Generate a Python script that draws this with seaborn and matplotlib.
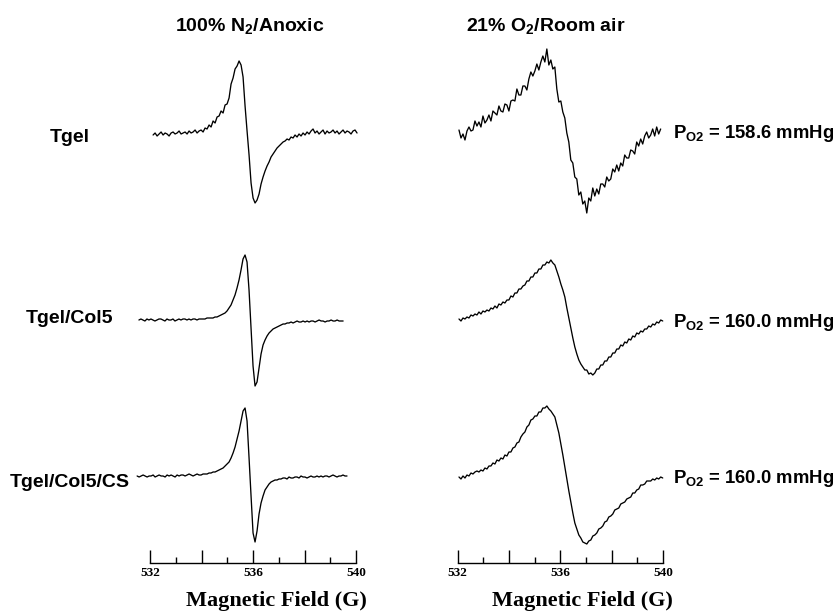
import numpy as np
import pandas as pd
import matplotlib
matplotlib.use("Agg")
import matplotlib.pyplot as plt
import seaborn as sns

# ---------------------------------------------------------------------------
# EPR spectra of the oximetry probe in three scaffolds, two atmospheres
# ---------------------------------------------------------------------------
samples = ["Tgel", "Tgel/Col5", "Tgel/Col5/CS"]
conditions = ["100% N$_\\mathregular{2}$/Anoxic", "21% O$_\\mathregular{2}$/Room air"]
po2_values = [158.6, 160.0, 160.0]          # mmHg, room-air spectra
field_ticks = [532, 536, 540]               # labelled field values (G)

# field sweep (start, end) in gauss of each recorded trace
anoxic_sweeps = [(532.12, 540.04), (531.57, 539.50), (531.50, 539.65)]
air_sweeps = [(532.05, 539.91), (532.05, 539.99), (532.05, 539.99)]

# first-derivative signal (a.u.), uniformly sampled over each sweep
anoxic_tgel = [
    -2, 0, -3, -1, 1, -2, 0, -1, -3, 0,
    1, -1, 0, 2, -1, 0, 1, -1, 2, 0,
    1, 3, 0, 2, 3, 1, 5, 4, 8, 6,
    12, 10, 16, 17, 22, 20, 28, 29, 35, 49,
    55, 64, 67, 72, 68, 56, 27, 2, -22, -50,
    -65, -70, -67, -61, -51, -44, -38, -33, -29, -24,
    -21, -18, -15, -13, -11, -9, -8, -6, -7, -4,
    -5, -2, -4, -1, -3, 0, -2, 1, -1, 2,
    4, 0, 2, -1, 1, 3, -1, 2, 0, 1,
    3, 0, 2, -1, 1, 3, 0, 2, 1, -1,
    2, 3, 0,
]
anoxic_col5 = [
    0, 1, 0, -1, 1, 0, 1, 0, -1, 0,
    1, 1, 0, -1, 1, 0, 0, 1, -1, 0,
    1, 0, 1, 1, 0, 1, 0, 1, 1, 0,
    1, 1, 1, 1, 2, 2, 2, 2, 3, 3,
    4, 5, 6, 7, 9, 12, 15, 20, 25, 32,
    40, 50, 61, 65, 58, 30, -8, -46, -66, -62,
    -48, -34, -25, -20, -16, -13, -11, -9, -8, -7,
    -6, -5, -4, -4, -3, -3, -2, -3, -2, -1,
    -2, -2, -1, -2, -1, -2, -1, -1, -2, -1,
    0, -1, -1, -2, -1, -1, 0, -1, -1, 0,
    -1, -1, -1,
]
anoxic_col5_cs = [
    0, -1, 0, 1, 0, -1, 0, 0, 1, -1,
    0, 1, 0, 0, -1, 1, 0, 1, 0, -1,
    1, 0, 1, 1, 0, 1, 2, 1, 0, 1,
    2, 1, 1, 2, 2, 2, 3, 3, 4, 4,
    5, 6, 7, 8, 10, 12, 14, 18, 23, 29,
    37, 45, 55, 65, 68, 55, 18, -20, -57, -66,
    -55, -38, -27, -20, -14, -11, -8, -6, -5, -4,
    -4, -3, -3, -2, -2, -3, -1, -2, -2, -1,
    -1, -2, 0, -1, -1, -2, -1, 0, -1, -1,
    0, -1, 0, -1, 0, 0, -1, 0, 1, 0,
    -1, 0, 0, 1, 0, 0,
]
air_tgel = [
    3, -5, -1, -7, 2, 6, 2, 3, 12, 7,
    11, 6, 17, 10, 13, 18, 12, 22, 20, 18,
    27, 22, 21, 29, 28, 22, 32, 33, 32, 44,
    38, 38, 47, 47, 43, 54, 61, 57, 62, 69,
    63, 71, 77, 71, 84, 68, 73, 64, 66, 44,
    31, 32, 21, 15, 0, -9, -27, -30, -44, -46,
    -62, -59, -71, -68, -80, -65, -68, -55, -63, -56,
    -61, -51, -51, -54, -44, -48, -46, -36, -39, -32,
    -38, -30, -33, -22, -25, -25, -17, -18, -21, -9,
    -13, -6, -11, -3, 1, -5, -2, 4, -3, 6,
    -1, 4,
]
air_col5 = [
    1, -1, 2, 1, 3, 2, 5, 4, 6, 5,
    8, 6, 9, 8, 10, 9, 12, 11, 14, 12,
    16, 15, 18, 17, 20, 20, 24, 23, 27, 27,
    31, 31, 34, 35, 39, 39, 43, 43, 47, 47,
    51, 51, 55, 55, 58, 57, 60, 57, 55, 49,
    43, 36, 30, 23, 12, 2, -8, -18, -27, -34,
    -40, -44, -47, -50, -50, -54, -53, -55, -53, -49,
    -49, -45, -45, -41, -41, -37, -37, -33, -33, -29,
    -29, -25, -26, -22, -23, -19, -20, -16, -17, -13,
    -14, -11, -12, -9, -9, -6, -7, -4, -5, -2,
    -3, 0, -1,
]
air_col5_cs = [
    1, -1, 2, 0, 3, 2, 5, 4, 6, 7,
    6, 8, 7, 10, 9, 12, 12, 15, 14, 18,
    17, 20, 19, 23, 22, 26, 26, 30, 31, 35,
    36, 41, 44, 46, 51, 53, 58, 59, 62, 62,
    66, 66, 70, 70, 72, 69, 67, 64, 61, 53,
    45, 34, 23, 11, -1, -13, -24, -35, -45, -51,
    -57, -60, -64, -65, -66, -63, -62, -58, -57, -55,
    -51, -50, -48, -44, -43, -39, -38, -36, -32, -31,
    -30, -26, -25, -24, -21, -20, -19, -15, -15, -12,
    -11, -7, -7, -6, -3, -3, -3, -1, -2, 0,
    -1, 1, 0,
]

# vertical stacking of the traces within each column (axis units)
anoxic_baselines = [430, 243, 87]
air_baselines = [430, 243, 85]

frames = []
for cond, sweeps, traces, bases in [
    (conditions[0], anoxic_sweeps, [anoxic_tgel, anoxic_col5, anoxic_col5_cs], anoxic_baselines),
    (conditions[1], air_sweeps, [air_tgel, air_col5, air_col5_cs], air_baselines),
]:
    for name, (f0, f1), sig, base in zip(samples, sweeps, traces, bases):
        sig = np.asarray(sig, dtype=float)
        frames.append(pd.DataFrame({
            "condition": cond,
            "sample": name,
            "field": np.linspace(f0, f1, len(sig)),
            "signal": sig,
            "y": sig + base,
        }))
spectra = pd.concat(frames, ignore_index=True)

# ---------------------------------------------------------------------------
sns.set_theme(style="white")
plt.rcParams["font.family"] = ["Liberation Sans", "DejaVu Sans"]
plt.rcParams["mathtext.default"] = "regular"

W, H = 840, 611
fig = plt.figure(figsize=(W / 100, H / 100), dpi=100)
fig.patch.set_facecolor("white")
spine_px = 563


def column_axes(x0, x1):
    return fig.add_axes([x0 / W, (H - spine_px) / H, (x1 - x0) / W, spine_px / H])


ax_l = column_axes(120, 372)
ax_r = column_axes(440, 680)
ax_l.set_xlim(532 + (120 - 150) / 25.75, 532 + (372 - 150) / 25.75)
ax_r.set_xlim(532 + (440 - 457.7) / 25.66, 532 + (680 - 457.7) / 25.66)

serif_bold = dict(family=["Liberation Serif", "DejaVu Serif"], weight="bold")

for ax, cond in zip([ax_l, ax_r], conditions):
    sub = spectra[spectra["condition"] == cond]
    sns.lineplot(data=sub, x="field", y="y", units="sample", estimator=None,
                 sort=False, color="black", linewidth=0.95, legend=False, ax=ax)
    ax.set_ylim(0, spine_px)
    ax.set_yticks([])
    ax.set_xlabel("")
    ax.set_ylabel("")
    ax.patch.set_alpha(0)
    for side in ["left", "right", "top"]:
        ax.spines[side].set_visible(False)
    ax.spines["bottom"].set_bounds(532, 540)
    ax.spines["bottom"].set_linewidth(1.0)
    ax.spines["bottom"].set_color("black")
    ax.set_xticks([532, 534, 536, 538, 540])
    ax.set_xticklabels([str(t) if t in field_ticks else "" for t in [532, 534, 536, 538, 540]])
    ax.set_xticks([533, 535, 537, 539], minor=True)
    ax.tick_params(axis="x", which="major", direction="in", length=9.5, width=1.0,
                   color="black", bottom=True, pad=3, labelsize=9.5, labelcolor="black")
    ax.tick_params(axis="x", which="minor", direction="in", length=4, width=1.0,
                   color="black", bottom=True)
    for lab in ax.get_xticklabels():
        lab.set_family(serif_bold["family"])
        lab.set_fontweight("bold")

# column headings
for cx, cond in zip([250, 546], conditions):
    fig.text(cx / W, 1 - 31 / H, cond, ha="center", va="baseline",
             fontsize=14, fontweight="bold", color="black")

# sample names
for name, by in zip(samples, [142, 323, 487]):
    fig.text(70 / W, 1 - by / H, name, ha="center", va="baseline",
             fontsize=14, fontweight="bold", color="black")

# oxygen partial pressures
for val, by in zip(po2_values, [138, 327, 483]):
    fig.text(673 / W, 1 - by / H, f"P$_\\mathregular{{O2}}$ = {val:.1f} mmHg",
             ha="left", va="baseline", fontsize=13.3, fontweight="bold", color="black")

# field axis titles
for cx in [276, 582]:
    fig.text(cx / W, 1 - 606 / H, "Magnetic Field (G)", ha="center", va="baseline",
             fontsize=16, color="black", **serif_bold)

fig.savefig("out.png", dpi=100, facecolor="white")
